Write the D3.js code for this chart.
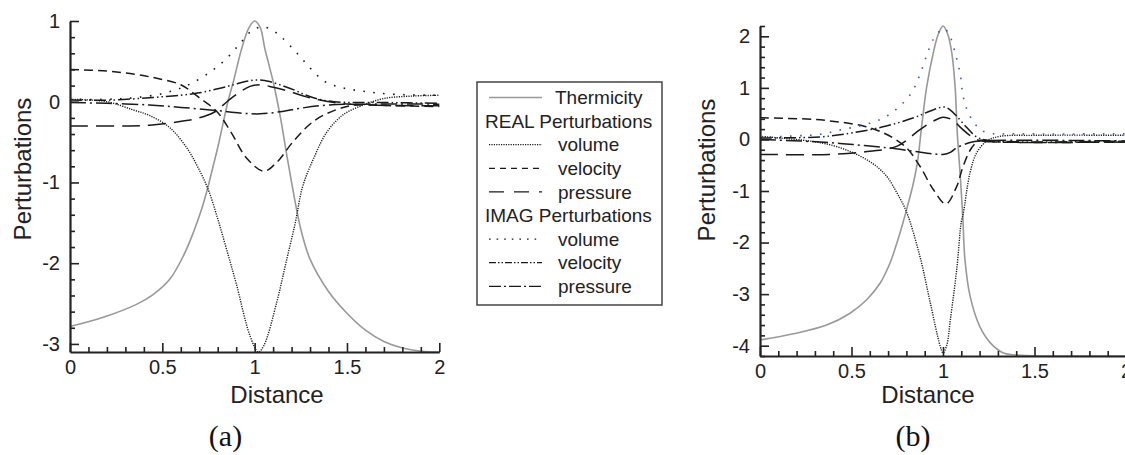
<!DOCTYPE html>
<html>
<head>
<meta charset="utf-8">
<script src="https://cdn.jsdelivr.net/npm/d3@7"></script>
<style>
  html, body { margin: 0; padding: 0; background: #fff; }
  svg { display: block; font-family: "Liberation Sans", Arial, sans-serif; }
  .axis path, .axis line { stroke: #222; }
  .axis text { fill: #222; font-size: 20px; font-family: "Liberation Sans", Arial, sans-serif; }
  .title { fill: #222; font-size: 24px; }
  .caption { fill: #111; font-size: 30px; font-family: "Liberation Serif", "Times New Roman", serif; }
  .legend text { fill: #222; font-size: 19px; }
</style>
</head>
<body>
<div id="chart"></div>
<script>
// ---- data: [distance, perturbation] ----
// panel (a)
const thermicityA = [[0, -2.785], [0.18, -2.67], [0.36, -2.51], [0.45, -2.39], [0.54, -2.2], [0.614, -1.91], [0.668, -1.62], [0.713, -1.33], [0.749, -1.04], [0.776, -0.79], [0.805, -0.52], [0.855, 0], [0.885, 0.25], [0.93, 0.66], [0.97, 0.92], [1.0, 1.0], [1.03, 0.92], [1.055, 0.66], [1.1, 0.25], [1.14, -0.2], [1.18, -0.74], [1.25, -1.58], [1.3, -1.95], [1.4, -2.35], [1.5, -2.62], [1.6, -2.83], [1.7, -2.97], [1.8, -3.05], [1.9, -3.09], [2.0, -3.1]];
const realVolumeA = [[0, 0.03], [0.2, 0.0], [0.34, -0.1], [0.43, -0.17], [0.54, -0.32], [0.632, -0.57], [0.69, -0.8], [0.749, -1.09], [0.8, -1.45], [0.848, -1.83], [0.9, -2.25], [0.975, -2.9], [1.02, -3.1], [1.05, -3.02], [1.12, -2.48], [1.17, -1.99], [1.22, -1.5], [1.26, -1.05], [1.32, -0.7], [1.39, -0.38], [1.48, -0.16], [1.59, -0.04], [1.7, 0.04], [1.85, 0.07], [2.0, 0.08]];
const realVelocityA = [[0, 0.4], [0.2, 0.38], [0.35, 0.34], [0.47, 0.29], [0.6, 0.21], [0.7, 0.05], [0.795, -0.12], [0.87, -0.37], [0.957, -0.7], [1.05, -0.86], [1.12, -0.75], [1.21, -0.49], [1.32, -0.24], [1.44, -0.1], [1.55, -0.04], [1.75, -0.05], [2.0, -0.06]];
const realPressureA = [[0, -0.3], [0.3, -0.3], [0.43, -0.29], [0.61, -0.24], [0.7, -0.2], [0.78, -0.13], [0.85, 0.0], [0.9, 0.09], [0.975, 0.19], [1.03, 0.21], [1.1, 0.18], [1.2, 0.12], [1.28, 0.06], [1.43, -0.01], [1.6, -0.04], [2.0, -0.05]];
const imagVolumeA = [[0, 0.03], [0.2, 0.03], [0.35, 0.05], [0.5, 0.1], [0.6, 0.17], [0.66, 0.23], [0.76, 0.37], [0.85, 0.54], [0.92, 0.72], [0.98, 0.87], [1.04, 0.93], [1.1, 0.88], [1.15, 0.79], [1.23, 0.6], [1.3, 0.42], [1.38, 0.25], [1.48, 0.17], [1.59, 0.13], [1.73, 0.095], [2.0, 0.08]];
const imagVelocityA = [[0, 0.02], [0.22, 0.02], [0.43, 0.05], [0.6, 0.08], [0.7, 0.11], [0.8, 0.16], [0.885, 0.21], [0.95, 0.25], [1.01, 0.27], [1.08, 0.25], [1.15, 0.2], [1.22, 0.14], [1.28, 0.08], [1.35, 0.03], [1.43, 0.0], [1.55, -0.01], [1.7, -0.01], [2.0, -0.02]];
const imagPressureA = [[0, -0.01], [0.2, -0.02], [0.43, -0.04], [0.6, -0.07], [0.8, -0.11], [0.92, -0.14], [1.03, -0.15], [1.15, -0.12], [1.25, -0.08], [1.4, -0.04], [1.6, -0.03], [2.0, -0.03]];

// panel (b)
const thermicityB = [[0, -3.89], [0.182, -3.77], [0.364, -3.6], [0.492, -3.37], [0.583, -3.11], [0.656, -2.79], [0.71, -2.4], [0.747, -2.02], [0.78, -1.63], [0.81, -1.24], [0.838, -0.85], [0.86, -0.45], [0.885, 0.3], [0.91, 1.0], [0.947, 1.68], [0.975, 2.05], [1.0, 2.2], [1.025, 2.05], [1.048, 1.68], [1.066, 1.03], [1.078, 0.13], [1.093, -0.64], [1.108, -1.49], [1.12, -2.33], [1.148, -3.04], [1.2, -3.62], [1.26, -3.95], [1.33, -4.14], [1.4, -4.18], [2.0, -4.2]];
const realVolumeB = [[0, 0.06], [0.27, -0.03], [0.4, -0.12], [0.51, -0.26], [0.6, -0.43], [0.656, -0.58], [0.7, -0.75], [0.747, -1.03], [0.8, -1.4], [0.874, -2.27], [0.93, -3.16], [0.984, -4.0], [1.0, -4.14], [1.02, -4.0], [1.04, -3.5], [1.075, -2.52], [1.1, -1.6], [1.11, -1.45], [1.148, -0.64], [1.184, -0.26], [1.24, -0.03], [1.31, 0.06], [1.5, 0.08], [2.0, 0.08]];
const realVelocityB = [[0, 0.42], [0.29, 0.39], [0.38, 0.36], [0.565, 0.26], [0.69, 0.1], [0.8, -0.16], [0.874, -0.52], [0.947, -0.97], [1.016, -1.25], [1.075, -0.91], [1.11, -0.52], [1.157, -0.16], [1.2, -0.02], [1.3, -0.05], [2.0, -0.05]];
const realPressureB = [[0, -0.29], [0.38, -0.29], [0.6, -0.23], [0.75, -0.13], [0.874, 0.19], [0.95, 0.36], [1.0, 0.43], [1.05, 0.38], [1.1, 0.22], [1.15, 0.07], [1.2, -0.02], [1.3, -0.05], [2.0, -0.05]];
const imagVolumeB = [[0, 0.04], [0.2, 0.07], [0.33, 0.1], [0.446, 0.19], [0.556, 0.27], [0.665, 0.4], [0.756, 0.62], [0.829, 0.91], [0.874, 1.26], [0.91, 1.62], [0.947, 1.94], [1.005, 2.15], [1.038, 2.0], [1.066, 1.68], [1.093, 1.29], [1.11, 0.84], [1.138, 0.52], [1.184, 0.26], [1.24, 0.13], [1.4, 0.11], [2.0, 0.11]];
const imagVelocityB = [[0, 0.03], [0.33, 0.05], [0.51, 0.13], [0.69, 0.26], [0.84, 0.42], [0.93, 0.55], [1.005, 0.63], [1.04, 0.57], [1.075, 0.45], [1.13, 0.23], [1.184, 0.05], [1.25, -0.02], [2.0, -0.03]];
const imagPressureB = [[0, 0.0], [0.33, -0.05], [0.51, -0.1], [0.69, -0.16], [0.84, -0.23], [0.95, -0.28], [1.0, -0.29], [1.04, -0.25], [1.075, -0.16], [1.148, -0.06], [1.2, -0.03], [2.0, -0.03]];

// ticks and labels
const xDomain = [0, 2];
const xMajorTicks = [0, 0.5, 1, 1.5, 2];
const yDomainA = [-3.1, 1];
const yMajorTicksA = [-3, -2, -1, 0, 1];
const yDomainB = [-4.2, 2.2];
const yMajorTicksB = [-4, -3, -2, -1, 0, 1, 2];
const legendRows = ["Thermicity", "REAL Perturbations", "volume", "velocity", "pressure", "IMAG Perturbations", "volume", "velocity", "pressure"];
const legendKeys = ["thermicity", null, "realVolume", "realVelocity", "realPressure", null, "imagVolume", "imagVelocity", "imagPressure"];
const seriesKeys = ["thermicity", "realVolume", "realVelocity", "realPressure", "imagVolume", "imagVelocity", "imagPressure"];

// line styles per series
const styles = {
  thermicity:   { stroke: "#999", width: 1.6, dash: null, legendDash: null },
  realVolume:   { stroke: "#1a1a1a", width: 1.4, dash: "1.2,1.2", legendDash: "1.2,1.2" },
  realVelocity: { stroke: "#1a1a1a", width: 1.5, dash: "9,5", legendDash: "6,5" },
  realPressure: { stroke: "#1a1a1a", width: 1.5, dash: "18,8", legendDash: "15,10" },
  imagVolume:   { stroke: "#1a1a1a", width: 1.6, dash: "1.6,8.4", legendDash: "1.6,6" },
  imagVelocity: { stroke: "#1a1a1a", width: 1.5, dash: "12,3,1.5,3,1.5,3", legendDash: "7,2,1.5,2,1.5,2" },
  imagPressure: { stroke: "#1a1a1a", width: 1.5, dash: "16,4,2,4", legendDash: "12,3,2,3" },
};

const fmt = (d) => String(d); // plain hyphen minus, like the original

class PerturbationPlot {
  constructor(svg, opts) {
    this.svg = svg;
    this.opts = opts;
    this.g = svg.append("g");
    this.x = d3.scaleLinear().domain(xDomain).range(opts.xRange);
    this.y = d3.scaleLinear().domain(opts.yDomain).range(opts.yRange);
    this.lines();
    this.axes();
    this.labels();
  }

  axes() {
    const { x, y, opts } = this;
    const yMinor = d3.range(Math.round(opts.yDomain[0] * 5), Math.round(opts.yDomain[1] * 5) + 1)
        .map((d) => d / 5)
        .filter((d) => !opts.yTicks.includes(d));
    const xMinor = d3.range(0, 21).map((d) => d / 10).filter((d) => !xMajorTicks.includes(d));

    //minor ticks
    this.g.append("g")
        .attr("class", "axis minor")
        .attr("transform", `translate(${opts.xRange[0]},0)`)
        .call(d3.axisLeft(y).tickValues(yMinor).tickSize(-5).tickFormat(""))
        .call((g) => g.select(".domain").remove());
    this.g.append("g")
        .attr("class", "axis minor")
        .attr("transform", `translate(0,${opts.yRange[0]})`)
        .call(d3.axisBottom(x).tickValues(xMinor).tickSize(-5).tickFormat(""))
        .call((g) => g.select(".domain").remove());

    //major ticks
    this.g.append("g")
        .attr("class", "axis")
        .attr("transform", `translate(${opts.xRange[0]},0)`)
        .call(d3.axisLeft(y).tickValues(opts.yTicks).tickSize(-9).tickSizeOuter(0).tickPadding(10).tickFormat(fmt));
    this.g.append("g")
        .attr("class", "axis xaxis")
        .attr("transform", `translate(0,${opts.yRange[0]})`)
        .call(d3.axisBottom(x).tickValues(xMajorTicks).tickSize(-9).tickSizeOuter(0).tickPadding(6).tickFormat(fmt));

    this.g.selectAll(".axis line").attr("stroke-width", 1.6);
    this.g.selectAll(".axis .domain").attr("stroke-width", 2.2);
    this.g.selectAll(".xaxis text").attr("dy", "0.78em");
  }

  lines() {
    const { x, y, opts } = this;
    const line = d3.line()
        .x((d) => x(d[0]))
        .y((d) => y(d[1]))
        .curve(d3.curveCatmullRom.alpha(0.5));

    this.g.append("g")
        .selectAll("path")
        .data(seriesKeys)
        .join("path")
        .attr("fill", "none")
        .attr("stroke", (k) => (k === "imagVolume" && opts.blueDots ? "#3c5fb8" : styles[k].stroke))
        .attr("stroke-width", (k) => styles[k].width)
        .attr("stroke-dasharray", (k) => styles[k].dash)
        .attr("d", (k) => line(opts.series[k]));
  }

  labels() {
    const { opts } = this;
    this.g.append("text")
        .attr("class", "title")
        .attr("text-anchor", "middle")
        .attr("x", opts.xTitleX)
        .attr("y", 403)
        .text("Distance");

    this.g.append("text")
        .attr("class", "title")
        .attr("text-anchor", "middle")
        .attr("transform", `translate(${opts.yTitleX},${opts.yTitleY})rotate(-90)`)
        .text("Perturbations");

    this.g.append("text")
        .attr("class", "caption")
        .attr("text-anchor", "middle")
        .attr("x", opts.captionX)
        .attr("y", 446)
        .text(opts.caption);
  }
}

function legend(svg) {
  const box = { x: 477, y: 82, w: 185, h: 223 };
  const g = svg.append("g").attr("class", "legend");

  g.append("rect")
      .attr("x", box.x)
      .attr("y", box.y)
      .attr("width", box.w)
      .attr("height", box.h)
      .attr("fill", "#fff")
      .attr("stroke", "#444")
      .attr("stroke-width", 1.5);

  const row = g.selectAll("g.row")
      .data(legendRows)
      .join("g")
      .attr("class", "row")
      .attr("transform", (d, i) => `translate(0,${97.5 + i * 23.6})`);

  row.each(function (d, i) {
    const r = d3.select(this);
    const k = legendKeys[i];
    if (k) {
      r.append("line")
          .attr("x1", 489)
          .attr("x2", 542)
          .attr("stroke", styles[k].stroke)
          .attr("stroke-width", k === "thermicity" ? 1.6 : 1.3)
          .attr("stroke-dasharray", styles[k].legendDash);
    }
    r.append("text")
        .attr("x", k === null ? 485 : k === "thermicity" ? 555 : 558)
        .attr("dy", "0.35em")
        .text(d);
  });
}

const svg = d3.select("#chart")
    .append("svg")
    .attr("width", 1125)
    .attr("height", 455);

new PerturbationPlot(svg, {
  xRange: [70, 439.3],
  yRange: [352, 21],
  yDomain: yDomainA,
  yTicks: yMajorTicksA,
  series: {
    thermicity: thermicityA, realVolume: realVolumeA, realVelocity: realVelocityA, realPressure: realPressureA,
    imagVolume: imagVolumeA, imagVelocity: imagVelocityA, imagPressure: imagPressureA,
  },
  xTitleX: 277, yTitleX: 31, yTitleY: 169,
  caption: "(a)", captionX: 225.5,
});

new PerturbationPlot(svg, {
  xRange: [760, 1126],
  yRange: [356, 26],
  yDomain: yDomainB,
  yTicks: yMajorTicksB,
  series: {
    thermicity: thermicityB, realVolume: realVolumeB, realVelocity: realVelocityB, realPressure: realPressureB,
    imagVolume: imagVolumeB, imagVelocity: imagVelocityB, imagPressure: imagPressureB,
  },
  blueDots: true,
  xTitleX: 928, yTitleX: 715, yTitleY: 170,
  caption: "(b)", captionX: 913,
});

legend(svg);
</script>
</body>
</html>
